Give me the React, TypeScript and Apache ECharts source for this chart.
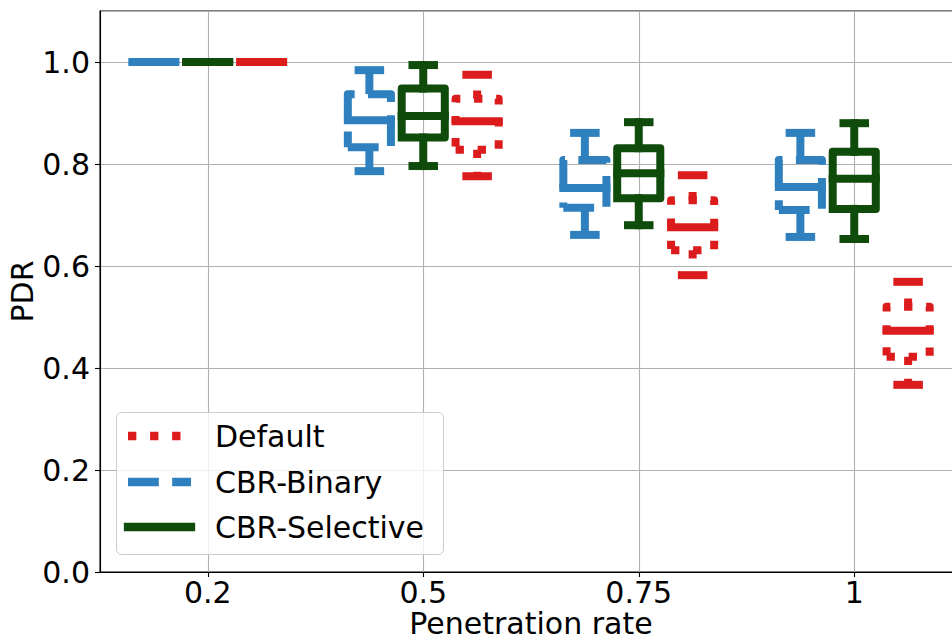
import React, { useEffect, useRef } from 'react';
import * as echarts from 'echarts';

// Penetration rate categories (x axis)
const categories = ['0.2', '0.5', '0.75', '1'];
// Each entry: [lower whisker, Q1, median, Q3, upper whisker]
const defaultStats = [
  [1.0, 1.0, 1.0, 1.0, 1.0],
  [0.776, 0.828, 0.884, 0.928, 0.975],
  [0.582, 0.631, 0.676, 0.729, 0.778],
  [0.367, 0.422, 0.473, 0.52, 0.569],
];
const binaryStats = [
  [1.0, 1.0, 1.0, 1.0, 1.0],
  [0.786, 0.833, 0.886, 0.937, 0.984],
  [0.661, 0.714, 0.753, 0.808, 0.861],
  [0.657, 0.71, 0.755, 0.808, 0.861],
];
const selectiveStats = [
  [1.0, 1.0, 1.0, 1.0, 1.0],
  [0.796, 0.852, 0.894, 0.948, 0.994],
  [0.68, 0.733, 0.782, 0.831, 0.882],
  [0.653, 0.712, 0.771, 0.824, 0.88],
];
const legendNames = ['Default', 'CBR-Binary', 'CBR-Selective'];

const RED = '#dc1c1c';
const BLUE = '#2f80be';
const GREEN = '#0f4b0b';
const FONT = 'DejaVu Sans';
const LW = 8;
const DASH_SCALE = 8.33;
const BOX_W = 0.2;

const dashFor = (kind: string, s: number) =>
  kind === 'dashed' ? [3.7 * s, 1.6 * s] : kind === 'dotted' ? [1 * s, 1.65 * s] : null;

const groups = [
  { name: 'CBR-Binary', color: BLUE, offset: -0.25, kind: 'dashed', stats: binaryStats },
  { name: 'CBR-Selective', color: GREEN, offset: 0, kind: 'solid', stats: selectiveStats },
  { name: 'Default', color: RED, offset: 0.25, kind: 'dotted', stats: defaultStats },
];

export default function App() {
  const ref = useRef<HTMLDivElement>(null);
  useEffect(() => {
    if (!ref.current) return;
    const chart = echarts.init(ref.current, null, { renderer: 'svg' });

    const series = groups.map((g) => ({
      type: 'custom',
      name: g.name,
      z: 5,
      data: g.stats.map((s, i) => [i + 1 + g.offset, ...s]),
      encode: { x: 0, y: [1, 2, 3, 4, 5] },
      renderItem: (params: any, api: any) => {
        const pos = api.value(0);
        const lo = api.value(1), q1 = api.value(2), med = api.value(3), q3 = api.value(4), hi = api.value(5);
        const xc = api.coord([pos, 0])[0];
        const hw = api.size([BOX_W, 0])[0] / 2;
        const y = (v: number) => api.coord([pos, v])[1];
        const L = xc - hw, R = xc + hw;
        const dash = dashFor(g.kind, DASH_SCALE);
        const styled = {
          stroke: g.color,
          lineWidth: LW,
          fill: 'none',
          lineJoin: 'round',
          lineCap: dash ? 'butt' : 'square',
          lineDash: dash,
        };
        const solid = { stroke: g.color, lineWidth: LW, fill: 'none', lineCap: 'square', lineJoin: 'round' };
        return {
          type: 'group',
          children: [
            { type: 'line', shape: { x1: xc, y1: y(q3), x2: xc, y2: y(hi) }, style: styled },
            { type: 'line', shape: { x1: xc, y1: y(q1), x2: xc, y2: y(lo) }, style: styled },
            { type: 'line', shape: { x1: xc - hw / 2, y1: y(hi), x2: xc + hw / 2, y2: y(hi) }, style: solid },
            { type: 'line', shape: { x1: xc - hw / 2, y1: y(lo), x2: xc + hw / 2, y2: y(lo) }, style: solid },
            {
              type: 'polyline',
              shape: { points: [[L, y(q1)], [R, y(q1)], [R, y(q3)], [L, y(q3)], [L, y(q1)]] },
              style: styled,
            },
            { type: 'line', shape: { x1: L, y1: y(med), x2: R, y2: y(med) }, style: solid },
          ],
        };
      },
    }));

    const legendColors = [RED, BLUE, GREEN];
    const legendKinds = ['dotted', 'dashed', 'solid'];
    const legendY = [436, 482, 527];
    const legendGraphics: any[] = [
      {
        type: 'rect',
        z: 100,
        shape: { x: 116.5, y: 412.5, width: 327, height: 142, r: 5 },
        style: { fill: 'rgba(255,255,255,0.8)', stroke: '#cccccc', lineWidth: 1 },
      },
    ];
    legendNames.forEach((n, i) => {
      const d = dashFor(legendKinds[i], 8.33);
      legendGraphics.push({
        type: 'line',
        z: 101,
        shape: { x1: 128, y1: legendY[i], x2: 191, y2: legendY[i] },
        style: { stroke: legendColors[i], lineWidth: 8.3, lineDash: d, lineCap: d ? 'butt' : 'square' },
      });
      legendGraphics.push({
        type: 'text',
        z: 101,
        x: 215,
        y: legendY[i],
        style: { text: n, fontSize: 30, fontFamily: FONT, fill: '#000', verticalAlign: 'middle', align: 'left' },
      });
    });

    chart.setOption({
      animation: false,
      backgroundColor: '#fff',
      textStyle: { fontFamily: FONT },
      grid: {
        left: 100,
        top: 11,
        right: -10,
        bottom: 67,
        containLabel: false,
        outerBoundsMode: 'none',
        show: true,
        borderColor: '#000',
        borderWidth: 1.1,
        backgroundColor: 'transparent',
      },
      xAxis: {
        type: 'value',
        min: 0.5,
        max: 4.5,
        splitNumber: 4,
        name: 'Penetration rate',
        nameLocation: 'middle',
        nameGap: 37,
        nameMoveOverlap: false,
        nameTextStyle: { fontSize: 30, lineHeight: 28, color: '#000', fontFamily: FONT },
        axisLine: { show: true, lineStyle: { color: '#000', width: 1.1 } },
        axisTick: { show: true, length: 5, lineStyle: { color: '#000', width: 1.1 } },
        axisLabel: {
          fontSize: 30,
          lineHeight: 28,
          color: '#000',
          fontFamily: FONT,
          margin: 6,
          showMinLabel: false,
          showMaxLabel: false,
          formatter: (v: number) => {
            const r = Math.round(v);
            return Math.abs(v - r) < 1e-6 && categories[r - 1] ? categories[r - 1] : '';
          },
        },
        splitLine: { show: true, lineStyle: { color: '#b0b0b0', width: 1.1 } },
      },
      yAxis: {
        type: 'value',
        min: 0,
        max: 1.1,
        interval: 0.2,
        name: 'PDR',
        nameLocation: 'middle',
        nameGap: 63,
        nameMoveOverlap: false,
        nameTextStyle: { fontSize: 30, color: '#000', fontFamily: FONT },
        axisLine: { show: true, lineStyle: { color: '#000', width: 1.1 } },
        axisTick: { show: true, length: 5, lineStyle: { color: '#000', width: 1.1 } },
        axisLabel: {
          fontSize: 30,
          color: '#000',
          fontFamily: FONT,
          margin: 10,
          showMaxLabel: false,
          formatter: (v: number) => (v > 1.05 ? '' : v.toFixed(1)),
        },
        splitLine: { show: true, lineStyle: { color: '#b0b0b0', width: 1.1 } },
      },
      series,
      graphic: legendGraphics,
    });
    return () => chart.dispose();
  }, []);
  return <div ref={ref} style={{ position: 'absolute', left: 0, top: 0, width: 952, height: 639 }} />;
}
